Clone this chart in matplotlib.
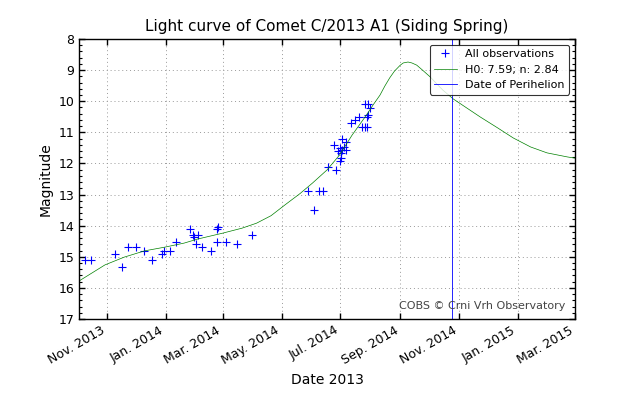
import matplotlib
matplotlib.use("Agg")
import matplotlib.pyplot as plt
import matplotlib.dates as mdates
from matplotlib.ticker import MultipleLocator
import datetime as dt

# Observations (date, magnitude)
obs_dates = ["2013-10-09", "2013-10-15", "2013-11-09", "2013-11-17", "2013-11-23",
             "2013-12-01", "2013-12-09", "2013-12-18", "2013-12-28", "2013-12-30",
             "2014-01-05", "2014-01-12", "2014-01-26", "2014-01-29", "2014-01-30",
             "2014-02-01", "2014-02-03", "2014-02-07", "2014-02-17", "2014-02-23",
             "2014-02-24", "2014-02-23", "2014-03-04", "2014-03-16", "2014-03-31",
             "2014-05-28", "2014-06-04", "2014-06-09", "2014-06-13", "2014-06-18",
             "2014-06-26", "2014-07-01", "2014-07-02", "2014-06-24", "2014-07-03",
             "2014-07-07", "2014-07-05", "2014-06-30", "2014-06-28", "2014-07-03",
             "2014-07-07", "2014-07-02", "2014-07-12", "2014-07-16", "2014-07-20",
             "2014-07-26", "2014-07-30", "2014-08-01", "2014-07-29", "2014-07-28",
             "2014-07-23", "2014-07-26", "2014-07-28"]
obs_mags = [15.10, 15.10, 14.91, 15.33, 14.69,
            14.69, 14.81, 15.10, 14.91, 14.81,
            14.81, 14.53, 14.11, 14.30, 14.36,
            14.59, 14.30, 14.69, 14.81, 14.11,
            14.04, 14.53, 14.53, 14.59, 14.30,
            12.89, 13.50, 12.89, 12.89, 12.11,
            12.21, 11.92, 11.83, 11.41, 11.21,
            11.31, 11.47, 11.50, 11.60, 11.57,
            11.57, 11.66, 10.70, 10.60, 10.51,
            10.09, 10.09, 10.22, 10.44, 10.51,
            10.83, 10.83, 10.83]

# Model light curve
curve_dates = ["2013-10-03", "2013-10-30", "2013-11-19", "2013-12-10", "2013-12-31",
               "2014-01-20", "2014-02-03", "2014-03-01", "2014-03-21", "2014-04-05",
               "2014-04-20", "2014-05-05", "2014-05-20", "2014-06-02", "2014-06-17",
               "2014-06-30", "2014-07-13", "2014-07-28", "2014-08-04", "2014-08-11",
               "2014-08-16", "2014-08-21", "2014-08-26", "2014-09-01", "2014-09-04",
               "2014-09-09", "2014-09-13", "2014-09-18", "2014-09-24", "2014-10-02",
               "2014-10-09", "2014-10-15", "2014-10-26", "2014-11-09", "2014-11-23",
               "2014-12-11", "2014-12-27", "2015-01-14", "2015-01-31", "2015-02-21",
               "2015-03-01"]
curve_mags = [15.78, 15.26, 15.01, 14.81, 14.69,
              14.56, 14.43, 14.24, 14.08, 13.92,
              13.68, 13.32, 12.97, 12.63, 12.21,
              11.73, 11.09, 10.44, 10.11, 9.80,
              9.51, 9.25, 9.03, 8.84, 8.77,
              8.74, 8.77, 8.84, 9.00, 9.22,
              9.45, 9.64, 9.93, 10.22, 10.51,
              10.86, 11.18, 11.47, 11.66, 11.79,
              11.83]

perihelion = "2014-10-25"
H0, n = 7.59, 2.84

def todate(s):
    return dt.datetime.strptime(s, "%Y-%m-%d")

od = [todate(s) for s in obs_dates]
cd = [todate(s) for s in curve_dates]

fig = plt.figure(figsize=(6.4, 4.0), dpi=100, facecolor="white")
ax = fig.add_axes([0.1234, 0.2025, 0.775, 0.70])

ax.plot(od, obs_mags, "+", color="blue", markersize=6, markeredgewidth=0.8,
        label="All observations")
ax.plot(cd, curve_mags, "-", color="green", linewidth=0.5,
        label="H0: %.2f; n: %.2f" % (H0, n))
ax.axvline(todate(perihelion), color="blue", linewidth=0.6, label="Date of Perihelion")

ax.set_xlim(todate("2013-10-03"), todate("2015-03-01"))
ax.set_ylim(17, 8)
ax.yaxis.set_major_locator(MultipleLocator(1))
ax.yaxis.set_minor_locator(MultipleLocator(0.2))
ax.xaxis.set_major_locator(mdates.MonthLocator(bymonth=[1, 3, 5, 7, 9, 11]))
ax.xaxis.set_major_formatter(mdates.DateFormatter("%b. %Y"))

ax.tick_params(which="both", direction="in", top=True, right=True, labelsize=9)
ax.tick_params(which="major", length=4, width=1)
ax.tick_params(which="minor", length=2, width=0.8)
for lbl in ax.get_xticklabels():
    lbl.set_rotation(30)
    lbl.set_ha("right")
for sp in ax.spines.values():
    sp.set_linewidth(1.0)

ax.grid(True, which="major", linestyle=(0, (1, 3)), color="#999999", linewidth=0.7)

ax.set_title("Light curve of Comet C/2013 A1 (Siding Spring)", fontsize=11)
ax.set_xlabel("Date 2013", fontsize=10)
ax.set_ylabel("Magnitude", fontsize=10)

ax.text(0.98, 0.03, "COBS \u00a9 Crni Vrh Observatory", transform=ax.transAxes,
        ha="right", va="bottom", fontsize=8, color="#444444")

leg = ax.legend(loc="upper right", fontsize=8, fancybox=True, numpoints=1,
                borderaxespad=0.5, handlelength=2.0)
leg.get_frame().set_edgecolor("black")
leg.get_frame().set_linewidth(0.8)

fig.savefig("out.png", dpi=100, facecolor="white")
